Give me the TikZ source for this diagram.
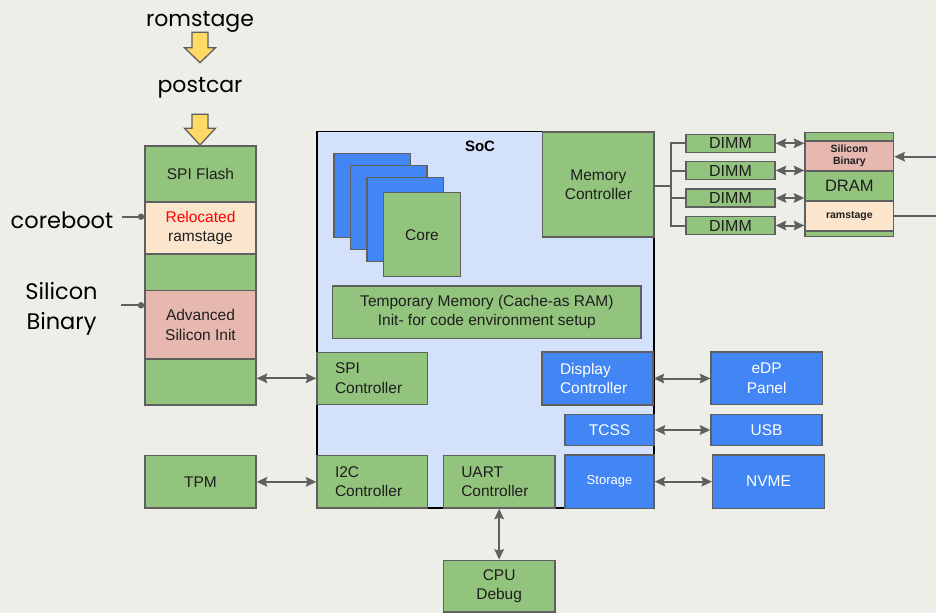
\documentclass[tikz,border=0pt]{standalone}
\usepackage{fontspec}
\setmainfont{Liberation Sans}
\newfontfamily\stagefont{Poppins}
\usetikzlibrary{arrows.meta}
\definecolor{bggray}{RGB}{238,238,233}
\definecolor{boxgreen}{RGB}{147,196,125}
\definecolor{boxblue}{RGB}{66,133,244}
\definecolor{boxpink}{RGB}{230,184,175}
\definecolor{boxpeach}{RGB}{252,229,205}
\definecolor{socblue}{RGB}{212,225,250}
\definecolor{edgegray}{RGB}{95,95,95}
\definecolor{stageyellow}{RGB}{255,217,102}
\definecolor{txtdark}{RGB}{30,30,30}
\tikzset{x=1pt, y=-1pt,
 blk/.style={draw=edgegray, line width=1.3pt, fill=boxgreen, inner sep=0pt,
   text=txtdark, align=center, font=\fontsize{15.5}{19.5}\selectfont},
 blu/.style={blk, fill=boxblue, text=white},
 ctl/.style={blk, align=left, inner xsep=18pt, text width=#1},
 bluctl/.style={ctl=#1, fill=boxblue, text=white},
 stagelbl/.style={font=\stagefont\fontsize{22}{30}\selectfont, text=black, align=center},
 wire/.style={draw=edgegray, line width=2pt},
 link/.style={wire, {Stealth[length=10.5pt,width=9.5pt,inset=1.5pt]}-{Stealth[length=10.5pt,width=9.5pt,inset=1.5pt]}},
 yarw/.style={draw=edgegray, line width=1.3pt, fill=stageyellow, line join=miter},
}

\begin{document}
\begin{tikzpicture}
    \fill[bggray] (0,0) rectangle (936,613);
    \useasboundingbox (0,0) rectangle (936,613);

    % boot stages
    \node[stagelbl] (romstage) at (200,22) {romstage};
    \node[stagelbl] (postcar) at (200,88) {postcar};
    \foreach \ya/\yb/\yc in {32.3/47.7/62.7,114.3/128.3/145}
        \draw[yarw] (192,\ya) -- (208,\ya) -- (208,\yb) -- (215.5,\yb) -- (200,\yc)
            -- (184.5,\yb) -- (192,\yb) -- cycle;

    % flash layout
    \node[blk, minimum width=111pt, minimum height=56pt] (flashA) at (200.5,174) {SPI Flash};
    \node[blk, fill=boxpeach, minimum width=111pt, minimum height=52pt] (flashB) at (200.5,228)
        {\textcolor{red}{Relocated}\\ramstage};
    \node[blk, minimum width=111pt, minimum height=36.5pt] (flashC) at (200.5,272.25) {};
    \node[blk, fill=boxpink, minimum width=111pt, minimum height=68.5pt] (flashD) at (200.5,324.75)
        {Advanced\\Silicon Init};
    \node[blk, minimum width=111pt, minimum height=46pt] (flashE) at (200.5,382) {};

    \node[stagelbl, font=\stagefont\fontsize{22.5}{30}\selectfont] (cblbl) at (62,220.5) {coreboot};
    \node[stagelbl, font=\stagefont\fontsize{22.5}{30}\selectfont] (sblbl) at (61.5,309) {Silicon\\Binary};
    \coordinate (cbdot) at (141,216.7);
    \coordinate (cbend) at (122,216.7);
    \coordinate (sbdot) at (141,305.3);
    \coordinate (sbend) at (121,305.3);
    \draw[wire] (cbend) -- (cbdot);
    \draw[wire] (sbend) -- (sbdot);
    \fill[edgegray] (cbdot) circle (3.2);
    \fill[edgegray] (sbdot) circle (3.2);

    % SoC
    \node[draw=black, line width=1.6pt, fill=socblue, inner sep=0pt,
        minimum width=337pt, minimum height=376.5pt] (soc) at (485.5,319.75) {};
    \node[font=\bfseries\fontsize{15}{18}\selectfont] (soclbl) at (480,146) {SoC};
    \node[blk, minimum width=111.3pt, minimum height=105pt] (memctl) at (598.4,184.5) {Memory\\Controller};
    \foreach \dx/\dy in {0/0,16.5/12,33/24}
        \draw[blu] (334+\dx,153.7+\dy) rectangle ++(76.5,83.6);
    \node[blk, minimum width=76.6pt, minimum height=84pt] (core) at (422,234.7) {Core};
    \node[blk, minimum width=308.3pt, minimum height=52.3pt] (tmem) at (486.85,312.15)
        {Temporary Memory (Cache-as RAM)\\Init- for code environment setup};
    \node[ctl=74.7pt, minimum height=52pt] (spictl) at (372.35,378.3) {SPI\\Controller};
    \node[ctl=74.7pt, minimum height=52.3pt] (i2cctl) at (372.35,481.85) {I2C\\Controller};
    \node[ctl=75.7pt, minimum height=52.3pt] (uartctl) at (499.15,481.85) {UART\\Controller};
    \node[bluctl=75pt, minimum height=53pt] (dispctl) at (597.5,378.5) {Display\\Controller};
    \node[blu, minimum width=89pt, minimum height=30.6pt] (tcss) at (609.5,430) {TCSS};
    \node[blu, minimum width=89pt, minimum height=53.3pt, font=\fontsize{13}{16}\selectfont] (storage)
        at (609.5,481.65) {Storage};

    % outside the SoC
    \node[blk, minimum width=111pt, minimum height=52.3pt] (tpm) at (200.5,481.85) {TPM};
    \node[blk, minimum width=111.7pt, minimum height=51.7pt] (cpudbg) at (499.15,586.2) {CPU\\Debug};
    \node[blu, minimum width=111.3pt, minimum height=52.7pt] (edp) at (766.65,378.35) {eDP\\Panel};
    \node[blu, minimum width=111pt, minimum height=30.6pt] (usb) at (766.5,430) {USB};
    \node[blu, minimum width=111.6pt, minimum height=53.3pt] (nvme) at (768.5,481.65) {NVME};

    \draw[link] (flashE.east |- spictl.west) -- (spictl.west);
    \draw[link] (tpm) -- (i2cctl);
    \draw[link] (uartctl) -- (cpudbg);
    \draw[link] (dispctl.east) -- (edp.west |- dispctl.east);
    \draw[link] (tcss) -- (usb);
    \draw[link] (storage.east) -- (nvme.west |- storage.east);

    % memory
    \foreach \n/\y in {1/143.3,2/170.5,3/198,4/225.5}
        \node[blk, minimum width=89pt, minimum height=18pt, font=\fontsize{16}{19}\selectfont]
            (dimm\n) at (730.5,\y) {DIMM};
    \node[blk, minimum width=88.7pt, minimum height=8.7pt] (dramA) at (849.35,136.65) {};
    \node[blk, fill=boxpink, minimum width=88.7pt, minimum height=30pt,
        font=\bfseries\fontsize{10.5}{12}\selectfont] (dramB) at (849.35,156) {Silicom\\Binary};
    \node[blk, minimum width=88.7pt, minimum height=30pt, font=\fontsize{16.5}{19}\selectfont]
        (dramC) at (849.35,186) {DRAM};
    \node[blk, fill=boxpeach, minimum width=88.7pt, minimum height=30pt,
        font=\bfseries\fontsize{10.5}{12}\selectfont] (dramD) at (849.35,216) {ramstage};
    \node[blk, minimum width=88.7pt, minimum height=5.7pt] (dramE) at (849.35,233.85) {};

    \coordinate (trunk) at (670.7,186);
    \draw[wire] (trunk -| memctl.east) -- (trunk);
    \foreach \n in {1,...,4} {
        \draw[wire] (trunk) |- (dimm\n.west);
        \draw[link] (dimm\n.east) -- (dimm\n.east -| dramB.west);
    }
    \coordinate (sbin) at (936,156.7);
    \coordinate (rsout) at (936,215.7);
    \draw[wire, -{Stealth[length=10.5pt,width=9.5pt,inset=1.5pt]}] (sbin) -- (sbin -| dramB.east);
    \draw[wire] (dramD.east |- rsout) -- (rsout);
\end{tikzpicture}
\end{document}
